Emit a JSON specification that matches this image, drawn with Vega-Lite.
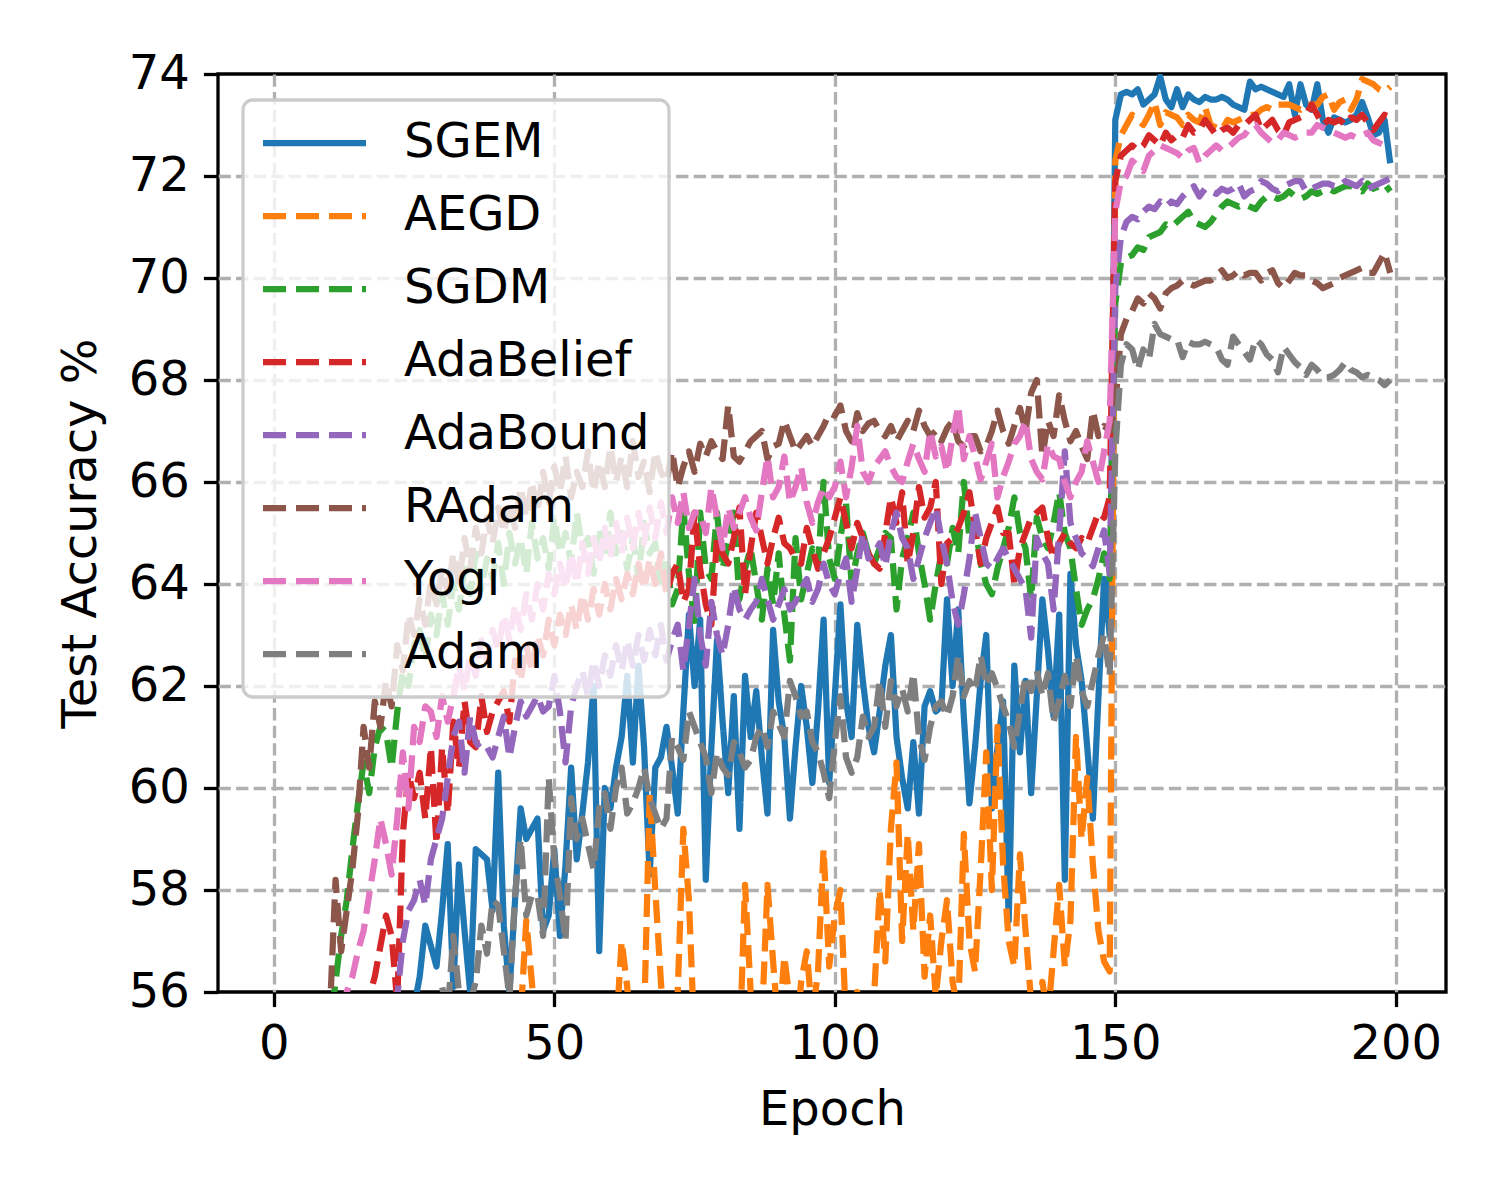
{
  "$schema": "https://vega.github.io/schema/vega-lite/v6.json",
  "width": 1228,
  "height": 918,
  "autosize": {"type": "none"},
  "padding": {"left": 218, "top": 74, "right": 54, "bottom": 208},
  "background": "white",
  "data": {"values": [
{"epoch":0,"SGEM":40,"AEGD":30,"SGDM":35,"AdaBelief":33,"AdaBound":30,"RAdam":38,"Yogi":35,"Adam":30},
{"epoch":1,"SGEM":43,"AEGD":35,"SGDM":40,"AdaBelief":37,"AdaBound":34,"RAdam":42,"Yogi":39,"Adam":33},
{"epoch":2,"SGEM":45,"AEGD":38,"SGDM":43,"AdaBelief":40,"AdaBound":37,"RAdam":45,"Yogi":42,"Adam":36},
{"epoch":3,"SGEM":47,"AEGD":40,"SGDM":46,"AdaBelief":42,"AdaBound":40,"RAdam":47,"Yogi":44,"Adam":38},
{"epoch":4,"SGEM":48.5,"AEGD":42,"SGDM":48,"AdaBelief":44,"AdaBound":42,"RAdam":49,"Yogi":46,"Adam":40},
{"epoch":5,"SGEM":49.5,"AEGD":43,"SGDM":50,"AdaBelief":46,"AdaBound":44,"RAdam":50.5,"Yogi":48,"Adam":42},
{"epoch":6,"SGEM":50.3,"AEGD":44,"SGDM":51.5,"AdaBelief":47.5,"AdaBound":45.5,"RAdam":52,"Yogi":49.5,"Adam":43.5},
{"epoch":7,"SGEM":51,"AEGD":45,"SGDM":52.5,"AdaBelief":49,"AdaBound":47,"RAdam":53,"Yogi":50.5,"Adam":45},
{"epoch":8,"SGEM":51.6,"AEGD":45.5,"SGDM":53.5,"AdaBelief":50,"AdaBound":48,"RAdam":54,"Yogi":51.5,"Adam":46},
{"epoch":9,"SGEM":52.1,"AEGD":46,"SGDM":54.5,"AdaBelief":51,"AdaBound":49,"RAdam":55,"Yogi":52.5,"Adam":47},
{"epoch":10,"SGEM":52.5,"AEGD":46.5,"SGDM":55.3,"AdaBelief":52,"AdaBound":50,"RAdam":55.6,"Yogi":53.5,"Adam":48},
{"epoch":11,"SGEM":52.9,"AEGD":47,"SGDM":56.2,"AdaBelief":52.8,"AdaBound":50.8,"RAdam":58.2,"Yogi":54.5,"Adam":48.8},
{"epoch":12,"SGEM":53.2,"AEGD":47.5,"SGDM":57.1,"AdaBelief":53.5,"AdaBound":51.5,"RAdam":56.8,"Yogi":55.2,"Adam":49.5},
{"epoch":13,"SGEM":53.5,"AEGD":48,"SGDM":57.8,"AdaBelief":54.2,"AdaBound":52.2,"RAdam":57.6,"Yogi":56.0,"Adam":50.2},
{"epoch":14,"SGEM":53.8,"AEGD":48.5,"SGDM":58.8,"AdaBelief":54.8,"AdaBound":52.8,"RAdam":58.4,"Yogi":56.3,"Adam":50.8},
{"epoch":15,"SGEM":54.0,"AEGD":49,"SGDM":59.7,"AdaBelief":55.2,"AdaBound":53.3,"RAdam":59.5,"Yogi":56.8,"Adam":51.4},
{"epoch":16,"SGEM":54.2,"AEGD":49,"SGDM":60.5,"AdaBelief":55.6,"AdaBound":53.8,"RAdam":61.2,"Yogi":57.2,"Adam":52},
{"epoch":17,"SGEM":54.4,"AEGD":49.5,"SGDM":59.9,"AdaBelief":55.9,"AdaBound":54.2,"RAdam":60.4,"Yogi":57.9,"Adam":52.5},
{"epoch":18,"SGEM":54.6,"AEGD":50,"SGDM":60.8,"AdaBelief":56.3,"AdaBound":54.6,"RAdam":61.7,"Yogi":58.6,"Adam":53},
{"epoch":19,"SGEM":54.8,"AEGD":50,"SGDM":61.2,"AdaBelief":56.9,"AdaBound":55.0,"RAdam":61.2,"Yogi":59.4,"Adam":53.4},
{"epoch":20,"SGEM":55.0,"AEGD":50.5,"SGDM":61.1,"AdaBelief":57.5,"AdaBound":55.4,"RAdam":62.1,"Yogi":58.9,"Adam":53.8},
{"epoch":21,"SGEM":55.1,"AEGD":50.5,"SGDM":60.4,"AdaBelief":57.1,"AdaBound":55.7,"RAdam":61.6,"Yogi":58.3,"Adam":54.2},
{"epoch":22,"SGEM":55.3,"AEGD":51,"SGDM":61.5,"AdaBelief":55.8,"AdaBound":55.9,"RAdam":62.8,"Yogi":59.4,"Adam":54.5},
{"epoch":23,"SGEM":55.4,"AEGD":51,"SGDM":62.3,"AdaBelief":59.1,"AdaBound":57.0,"RAdam":62.3,"Yogi":60.7,"Adam":54.8},
{"epoch":24,"SGEM":55.5,"AEGD":51.5,"SGDM":62.0,"AdaBelief":60.3,"AdaBound":57.6,"RAdam":63.4,"Yogi":59.6,"Adam":55.0},
{"epoch":25,"SGEM":55.7,"AEGD":51.5,"SGDM":62.8,"AdaBelief":59.8,"AdaBound":57.8,"RAdam":63.0,"Yogi":61.2,"Adam":55.2},
{"epoch":26,"SGEM":56.3,"AEGD":52,"SGDM":63.1,"AdaBelief":60.3,"AdaBound":58.2,"RAdam":63.7,"Yogi":60.9,"Adam":55.4},
{"epoch":27,"SGEM":57.3,"AEGD":52,"SGDM":62.5,"AdaBelief":59.4,"AdaBound":57.7,"RAdam":63.2,"Yogi":61.6,"Adam":55.6},
{"epoch":28,"SGEM":56.9,"AEGD":52,"SGDM":63.4,"AdaBelief":60.8,"AdaBound":58.6,"RAdam":64.1,"Yogi":61.5,"Adam":55.8},
{"epoch":29,"SGEM":56.5,"AEGD":52.5,"SGDM":63.0,"AdaBelief":58.9,"AdaBound":59.0,"RAdam":63.6,"Yogi":61.0,"Adam":55.9},
{"epoch":30,"SGEM":57.6,"AEGD":52.5,"SGDM":63.8,"AdaBelief":60.8,"AdaBound":59.4,"RAdam":64.3,"Yogi":61.8,"Adam":56.1},
{"epoch":31,"SGEM":58.9,"AEGD":52.5,"SGDM":63.2,"AdaBelief":59.5,"AdaBound":60.2,"RAdam":63.8,"Yogi":61.3,"Adam":55.6},
{"epoch":32,"SGEM":56.1,"AEGD":53,"SGDM":64.0,"AdaBelief":61.3,"AdaBound":61.0,"RAdam":64.6,"Yogi":61.8,"Adam":57.1},
{"epoch":33,"SGEM":58.5,"AEGD":53,"SGDM":63.5,"AdaBelief":60.4,"AdaBound":61.3,"RAdam":64.0,"Yogi":62.4,"Adam":56.0},
{"epoch":34,"SGEM":57.2,"AEGD":53,"SGDM":64.3,"AdaBelief":61.7,"AdaBound":60.3,"RAdam":64.9,"Yogi":61.9,"Adam":55.5},
{"epoch":35,"SGEM":56.0,"AEGD":53.2,"SGDM":63.8,"AdaBelief":60.9,"AdaBound":61.4,"RAdam":64.3,"Yogi":62.6,"Adam":55.8},
{"epoch":36,"SGEM":58.8,"AEGD":53.4,"SGDM":64.6,"AdaBelief":60.8,"AdaBound":60.9,"RAdam":65.1,"Yogi":62.2,"Adam":56.2},
{"epoch":37,"SGEM":58.7,"AEGD":53.5,"SGDM":63.9,"AdaBelief":61.8,"AdaBound":60.75,"RAdam":64.6,"Yogi":62.9,"Adam":57.3},
{"epoch":38,"SGEM":58.6,"AEGD":53.5,"SGDM":64.5,"AdaBelief":61.1,"AdaBound":60.8,"RAdam":65.3,"Yogi":62.5,"Adam":56.75},
{"epoch":39,"SGEM":57.6,"AEGD":53.6,"SGDM":64.1,"AdaBelief":61.5,"AdaBound":60.6,"RAdam":64.8,"Yogi":63.1,"Adam":57.8},
{"epoch":40,"SGEM":60.3,"AEGD":53.8,"SGDM":64.8,"AdaBelief":61.7,"AdaBound":61.0,"RAdam":65.5,"Yogi":62.7,"Adam":57.7},
{"epoch":41,"SGEM":57.3,"AEGD":54.0,"SGDM":64.0,"AdaBelief":61.9,"AdaBound":61.4,"RAdam":65.0,"Yogi":63.4,"Adam":56.8},
{"epoch":42,"SGEM":56.0,"AEGD":53.5,"SGDM":65.0,"AdaBelief":61.3,"AdaBound":60.6,"RAdam":65.6,"Yogi":62.9,"Adam":55.9},
{"epoch":43,"SGEM":57.8,"AEGD":54.5,"SGDM":64.4,"AdaBelief":62.5,"AdaBound":61.2,"RAdam":65.1,"Yogi":63.6,"Adam":57.9},
{"epoch":44,"SGEM":59.6,"AEGD":55.5,"SGDM":64.9,"AdaBelief":62.1,"AdaBound":61.7,"RAdam":65.9,"Yogi":63.1,"Adam":59.0},
{"epoch":45,"SGEM":59.0,"AEGD":57.4,"SGDM":64.2,"AdaBelief":62.8,"AdaBound":61.4,"RAdam":65.3,"Yogi":63.8,"Adam":57.5},
{"epoch":46,"SGEM":59.2,"AEGD":56.2,"SGDM":65.2,"AdaBelief":62.3,"AdaBound":61.6,"RAdam":66.0,"Yogi":63.3,"Adam":57.9},
{"epoch":47,"SGEM":59.4,"AEGD":54.8,"SGDM":64.5,"AdaBelief":63.0,"AdaBound":61.8,"RAdam":65.4,"Yogi":64.0,"Adam":57.9},
{"epoch":48,"SGEM":57.2,"AEGD":54.0,"SGDM":64.9,"AdaBelief":62.6,"AdaBound":61.5,"RAdam":66.2,"Yogi":63.5,"Adam":57.1},
{"epoch":49,"SGEM":57.5,"AEGD":53.8,"SGDM":64.3,"AdaBelief":63.3,"AdaBound":61.6,"RAdam":65.6,"Yogi":64.2,"Adam":60.2},
{"epoch":50,"SGEM":58.8,"AEGD":54.2,"SGDM":65.3,"AdaBelief":62.8,"AdaBound":62.2,"RAdam":66.3,"Yogi":63.8,"Adam":58.6},
{"epoch":51,"SGEM":57.1,"AEGD":53.6,"SGDM":64.6,"AdaBelief":63.4,"AdaBound":61.5,"RAdam":65.8,"Yogi":64.4,"Adam":57.9},
{"epoch":52,"SGEM":58.5,"AEGD":54.5,"SGDM":65.0,"AdaBelief":63.0,"AdaBound":60.5,"RAdam":66.5,"Yogi":63.9,"Adam":57.0},
{"epoch":53,"SGEM":60.4,"AEGD":54.0,"SGDM":64.4,"AdaBelief":63.6,"AdaBound":61.6,"RAdam":65.7,"Yogi":64.6,"Adam":59.8},
{"epoch":54,"SGEM":58.6,"AEGD":53.8,"SGDM":65.4,"AdaBelief":63.1,"AdaBound":62.0,"RAdam":66.2,"Yogi":64.0,"Adam":59.0},
{"epoch":55,"SGEM":59.5,"AEGD":54.4,"SGDM":64.7,"AdaBelief":63.8,"AdaBound":62.3,"RAdam":65.9,"Yogi":64.8,"Adam":59.4},
{"epoch":56,"SGEM":60.5,"AEGD":54.0,"SGDM":64.9,"AdaBelief":63.3,"AdaBound":61.8,"RAdam":66.6,"Yogi":64.2,"Adam":58.9},
{"epoch":57,"SGEM":62.0,"AEGD":53.5,"SGDM":64.2,"AdaBelief":63.9,"AdaBound":62.5,"RAdam":65.8,"Yogi":64.9,"Adam":58.4},
{"epoch":58,"SGEM":56.8,"AEGD":54.2,"SGDM":65.1,"AdaBelief":63.4,"AdaBound":62.0,"RAdam":66.4,"Yogi":64.4,"Adam":59.6},
{"epoch":59,"SGEM":60.0,"AEGD":54.8,"SGDM":64.5,"AdaBelief":64.0,"AdaBound":62.6,"RAdam":65.9,"Yogi":65.1,"Adam":59.9},
{"epoch":60,"SGEM":59.6,"AEGD":54.3,"SGDM":65.4,"AdaBelief":63.5,"AdaBound":62.2,"RAdam":66.7,"Yogi":64.5,"Adam":59.2},
{"epoch":61,"SGEM":60.4,"AEGD":55.2,"SGDM":64.6,"AdaBelief":64.1,"AdaBound":62.8,"RAdam":66.0,"Yogi":65.2,"Adam":60.0},
{"epoch":62,"SGEM":61.0,"AEGD":57.0,"SGDM":65.0,"AdaBelief":63.7,"AdaBound":62.3,"RAdam":66.5,"Yogi":64.6,"Adam":60.4},
{"epoch":63,"SGEM":62.2,"AEGD":56.1,"SGDM":64.3,"AdaBelief":64.2,"AdaBound":62.9,"RAdam":65.9,"Yogi":65.3,"Adam":59.5},
{"epoch":64,"SGEM":60.5,"AEGD":54.6,"SGDM":64.9,"AdaBelief":63.8,"AdaBound":62.4,"RAdam":66.8,"Yogi":64.7,"Adam":59.7},
{"epoch":65,"SGEM":62.4,"AEGD":55.0,"SGDM":64.1,"AdaBelief":64.4,"AdaBound":63.0,"RAdam":66.1,"Yogi":65.4,"Adam":60.0},
{"epoch":66,"SGEM":60.8,"AEGD":55.4,"SGDM":65.2,"AdaBelief":63.9,"AdaBound":62.5,"RAdam":66.4,"Yogi":64.8,"Adam":60.4},
{"epoch":67,"SGEM":58.3,"AEGD":59.9,"SGDM":64.6,"AdaBelief":64.5,"AdaBound":63.1,"RAdam":65.8,"Yogi":65.5,"Adam":59.8},
{"epoch":68,"SGEM":60.4,"AEGD":58.0,"SGDM":64.8,"AdaBelief":64.0,"AdaBound":62.6,"RAdam":66.6,"Yogi":64.9,"Adam":59.5},
{"epoch":69,"SGEM":60.6,"AEGD":56.2,"SGDM":63.9,"AdaBelief":64.6,"AdaBound":63.2,"RAdam":66.2,"Yogi":65.6,"Adam":59.2},
{"epoch":70,"SGEM":61.2,"AEGD":54.8,"SGDM":64.5,"AdaBelief":63.8,"AdaBound":62.5,"RAdam":66.0,"Yogi":65.0,"Adam":59.4},
{"epoch":71,"SGEM":60.4,"AEGD":55.3,"SGDM":63.6,"AdaBelief":64.2,"AdaBound":62.9,"RAdam":66.6,"Yogi":65.7,"Adam":61.0},
{"epoch":72,"SGEM":59.5,"AEGD":56.0,"SGDM":63.9,"AdaBelief":64.4,"AdaBound":63.2,"RAdam":65.9,"Yogi":65.2,"Adam":60.8},
{"epoch":73,"SGEM":61.5,"AEGD":59.2,"SGDM":65.5,"AdaBelief":63.65,"AdaBound":62.3,"RAdam":66.3,"Yogi":65.8,"Adam":60.55},
{"epoch":74,"SGEM":63.4,"AEGD":57.8,"SGDM":64.2,"AdaBelief":63.9,"AdaBound":63.2,"RAdam":66.6,"Yogi":65.1,"Adam":61.5},
{"epoch":75,"SGEM":62.0,"AEGD":55.0,"SGDM":63.2,"AdaBelief":65.4,"AdaBound":64.1,"RAdam":66.2,"Yogi":65.4,"Adam":61.2},
{"epoch":76,"SGEM":63.3,"AEGD":54.2,"SGDM":65.4,"AdaBelief":64.3,"AdaBound":63.0,"RAdam":66.75,"Yogi":65.4,"Adam":60.9},
{"epoch":77,"SGEM":58.2,"AEGD":54.8,"SGDM":64.3,"AdaBelief":63.6,"AdaBound":62.4,"RAdam":66.5,"Yogi":65.0,"Adam":60.6},
{"epoch":78,"SGEM":60.8,"AEGD":55.3,"SGDM":64.1,"AdaBelief":63.2,"AdaBound":63.65,"RAdam":66.8,"Yogi":65.9,"Adam":59.9},
{"epoch":79,"SGEM":62.9,"AEGD":54.6,"SGDM":65.4,"AdaBelief":64.9,"AdaBound":63.0,"RAdam":66.6,"Yogi":65.3,"Adam":60.7},
{"epoch":80,"SGEM":61.3,"AEGD":55.0,"SGDM":64.3,"AdaBelief":64.6,"AdaBound":62.6,"RAdam":66.45,"Yogi":64.7,"Adam":60.4},
{"epoch":81,"SGEM":59.9,"AEGD":55.3,"SGDM":64.8,"AdaBelief":64.4,"AdaBound":63.2,"RAdam":67.5,"Yogi":65.5,"Adam":60.25},
{"epoch":82,"SGEM":61.8,"AEGD":55.2,"SGDM":65.4,"AdaBelief":64.9,"AdaBound":63.95,"RAdam":66.5,"Yogi":65.1,"Adam":60.9},
{"epoch":83,"SGEM":59.2,"AEGD":54.8,"SGDM":63.7,"AdaBelief":65.5,"AdaBound":63.5,"RAdam":66.4,"Yogi":65.4,"Adam":60.7},
{"epoch":84,"SGEM":62.2,"AEGD":58.1,"SGDM":64.3,"AdaBelief":63.8,"AdaBound":63.3,"RAdam":66.6,"Yogi":65.7,"Adam":60.4},
{"epoch":85,"SGEM":61.0,"AEGD":56.0,"SGDM":64.7,"AdaBelief":64.7,"AdaBound":63.5,"RAdam":66.8,"Yogi":65.3,"Adam":60.55},
{"epoch":86,"SGEM":61.9,"AEGD":54.6,"SGDM":64.0,"AdaBelief":65.4,"AdaBound":63.65,"RAdam":66.9,"Yogi":65.05,"Adam":61.0},
{"epoch":87,"SGEM":60.6,"AEGD":55.4,"SGDM":63.3,"AdaBelief":64.9,"AdaBound":64.1,"RAdam":67.0,"Yogi":65.8,"Adam":61.2},
{"epoch":88,"SGEM":59.5,"AEGD":58.1,"SGDM":64.3,"AdaBelief":64.4,"AdaBound":63.7,"RAdam":66.45,"Yogi":66.5,"Adam":60.8},
{"epoch":89,"SGEM":63.1,"AEGD":56.6,"SGDM":63.6,"AdaBelief":64.9,"AdaBound":63.3,"RAdam":66.7,"Yogi":65.7,"Adam":61.5},
{"epoch":90,"SGEM":61.7,"AEGD":55.2,"SGDM":64.6,"AdaBelief":65.3,"AdaBound":63.6,"RAdam":66.75,"Yogi":65.9,"Adam":61.25},
{"epoch":91,"SGEM":61.0,"AEGD":56.7,"SGDM":63.4,"AdaBelief":64.8,"AdaBound":63.9,"RAdam":67.2,"Yogi":66.5,"Adam":61.0},
{"epoch":92,"SGEM":59.4,"AEGD":55.8,"SGDM":62.5,"AdaBelief":64.7,"AdaBound":63.5,"RAdam":66.9,"Yogi":65.6,"Adam":62.1},
{"epoch":93,"SGEM":60.8,"AEGD":54.9,"SGDM":64.9,"AdaBelief":64.5,"AdaBound":63.65,"RAdam":66.6,"Yogi":65.9,"Adam":61.8},
{"epoch":94,"SGEM":62.0,"AEGD":56.2,"SGDM":63.7,"AdaBelief":64.4,"AdaBound":63.9,"RAdam":66.75,"Yogi":66.3,"Adam":61.4},
{"epoch":95,"SGEM":61.2,"AEGD":56.8,"SGDM":64.2,"AdaBelief":65.1,"AdaBound":64.1,"RAdam":66.9,"Yogi":65.6,"Adam":61.5},
{"epoch":96,"SGEM":60.1,"AEGD":55.5,"SGDM":64.7,"AdaBelief":64.7,"AdaBound":63.65,"RAdam":66.7,"Yogi":65.2,"Adam":60.9},
{"epoch":97,"SGEM":61.5,"AEGD":56.4,"SGDM":64.4,"AdaBelief":64.3,"AdaBound":63.9,"RAdam":66.9,"Yogi":65.6,"Adam":60.7},
{"epoch":98,"SGEM":63.3,"AEGD":58.8,"SGDM":66.0,"AdaBelief":64.6,"AdaBound":64.4,"RAdam":67.1,"Yogi":65.9,"Adam":60.3},
{"epoch":99,"SGEM":60.1,"AEGD":56.5,"SGDM":64.5,"AdaBelief":64.9,"AdaBound":64.0,"RAdam":67.35,"Yogi":65.7,"Adam":59.8},
{"epoch":100,"SGEM":61.8,"AEGD":57.5,"SGDM":64.1,"AdaBelief":65.3,"AdaBound":63.8,"RAdam":67.3,"Yogi":65.9,"Adam":60.9},
{"epoch":101,"SGEM":63.6,"AEGD":58.0,"SGDM":64.9,"AdaBelief":65.7,"AdaBound":64.2,"RAdam":67.5,"Yogi":66.4,"Adam":61.8},
{"epoch":102,"SGEM":61.7,"AEGD":55.4,"SGDM":65.6,"AdaBelief":65.2,"AdaBound":64.5,"RAdam":67.0,"Yogi":65.7,"Adam":60.6},
{"epoch":103,"SGEM":61.0,"AEGD":54.8,"SGDM":64.0,"AdaBelief":64.7,"AdaBound":63.65,"RAdam":66.8,"Yogi":66.3,"Adam":60.3},
{"epoch":104,"SGEM":63.2,"AEGD":56.0,"SGDM":64.6,"AdaBelief":65.2,"AdaBound":64.3,"RAdam":67.35,"Yogi":67.1,"Adam":60.6},
{"epoch":105,"SGEM":62.1,"AEGD":55.1,"SGDM":65.0,"AdaBelief":64.9,"AdaBound":65.0,"RAdam":67.0,"Yogi":66.2,"Adam":61.4},
{"epoch":106,"SGEM":61.2,"AEGD":54.6,"SGDM":64.6,"AdaBelief":64.6,"AdaBound":64.5,"RAdam":67.15,"Yogi":66.0,"Adam":61.0},
{"epoch":107,"SGEM":60.7,"AEGD":55.9,"SGDM":64.4,"AdaBelief":64.4,"AdaBound":64.6,"RAdam":67.2,"Yogi":66.3,"Adam":61.2},
{"epoch":108,"SGEM":61.5,"AEGD":58.0,"SGDM":64.7,"AdaBelief":64.3,"AdaBound":64.8,"RAdam":67.0,"Yogi":66.45,"Adam":62.1},
{"epoch":109,"SGEM":62.4,"AEGD":56.6,"SGDM":65.0,"AdaBelief":65.0,"AdaBound":64.35,"RAdam":66.9,"Yogi":66.6,"Adam":61.2},
{"epoch":110,"SGEM":63.0,"AEGD":59.2,"SGDM":64.9,"AdaBelief":65.7,"AdaBound":65.0,"RAdam":67.1,"Yogi":66.3,"Adam":62.1},
{"epoch":111,"SGEM":61.0,"AEGD":60.5,"SGDM":63.5,"AdaBelief":65.2,"AdaBound":65.4,"RAdam":66.8,"Yogi":66.1,"Adam":61.6},
{"epoch":112,"SGEM":60.2,"AEGD":57.0,"SGDM":64.5,"AdaBelief":65.8,"AdaBound":64.9,"RAdam":67.0,"Yogi":66.0,"Adam":61.95},
{"epoch":113,"SGEM":59.6,"AEGD":59.1,"SGDM":64.9,"AdaBelief":64.4,"AdaBound":64.7,"RAdam":67.2,"Yogi":66.4,"Adam":61.5},
{"epoch":114,"SGEM":60.9,"AEGD":57.2,"SGDM":65.4,"AdaBelief":65.0,"AdaBound":64.1,"RAdam":67.0,"Yogi":66.75,"Adam":62.25},
{"epoch":115,"SGEM":59.5,"AEGD":58.9,"SGDM":64.6,"AdaBelief":65.9,"AdaBound":64.5,"RAdam":67.4,"Yogi":66.45,"Adam":61.0},
{"epoch":116,"SGEM":61.6,"AEGD":56.3,"SGDM":64.0,"AdaBelief":65.3,"AdaBound":64.9,"RAdam":67.1,"Yogi":66.2,"Adam":60.55},
{"epoch":117,"SGEM":61.9,"AEGD":57.5,"SGDM":63.3,"AdaBelief":65.5,"AdaBound":65.2,"RAdam":66.9,"Yogi":67.0,"Adam":61.2},
{"epoch":118,"SGEM":61.5,"AEGD":55.9,"SGDM":64.0,"AdaBelief":66.0,"AdaBound":65.5,"RAdam":67.0,"Yogi":66.5,"Adam":61.6},
{"epoch":119,"SGEM":61.6,"AEGD":57.0,"SGDM":64.6,"AdaBelief":64.0,"AdaBound":64.9,"RAdam":66.8,"Yogi":66.7,"Adam":61.7},
{"epoch":120,"SGEM":63.7,"AEGD":57.8,"SGDM":64.4,"AdaBelief":64.8,"AdaBound":64.4,"RAdam":67.05,"Yogi":66.2,"Adam":61.4},
{"epoch":121,"SGEM":62.0,"AEGD":56.2,"SGDM":65.1,"AdaBelief":64.9,"AdaBound":63.65,"RAdam":67.2,"Yogi":66.9,"Adam":61.8},
{"epoch":122,"SGEM":63.5,"AEGD":55.6,"SGDM":64.6,"AdaBelief":65.1,"AdaBound":63.2,"RAdam":66.8,"Yogi":67.5,"Adam":62.6},
{"epoch":123,"SGEM":61.4,"AEGD":59.1,"SGDM":66.0,"AdaBelief":65.4,"AdaBound":63.8,"RAdam":66.7,"Yogi":66.45,"Adam":61.8},
{"epoch":124,"SGEM":59.7,"AEGD":57.0,"SGDM":64.9,"AdaBelief":65.8,"AdaBound":64.5,"RAdam":66.9,"Yogi":66.9,"Adam":62.1},
{"epoch":125,"SGEM":60.8,"AEGD":56.4,"SGDM":65.2,"AdaBelief":65.1,"AdaBound":65.4,"RAdam":66.9,"Yogi":66.5,"Adam":61.9},
{"epoch":126,"SGEM":62.1,"AEGD":58.4,"SGDM":64.4,"AdaBelief":64.4,"AdaBound":64.9,"RAdam":66.6,"Yogi":66.05,"Adam":62.6},
{"epoch":127,"SGEM":63.0,"AEGD":60.7,"SGDM":64.0,"AdaBelief":64.9,"AdaBound":64.4,"RAdam":66.7,"Yogi":66.4,"Adam":62.0},
{"epoch":128,"SGEM":59.6,"AEGD":58.0,"SGDM":63.8,"AdaBelief":65.2,"AdaBound":64.3,"RAdam":67.0,"Yogi":66.75,"Adam":62.25},
{"epoch":129,"SGEM":60.8,"AEGD":61.2,"SGDM":64.3,"AdaBelief":65.5,"AdaBound":64.5,"RAdam":67.4,"Yogi":65.7,"Adam":61.95},
{"epoch":130,"SGEM":61.7,"AEGD":58.5,"SGDM":64.7,"AdaBelief":65.0,"AdaBound":64.7,"RAdam":67.0,"Yogi":66.1,"Adam":61.6},
{"epoch":131,"SGEM":57.4,"AEGD":57.0,"SGDM":65.1,"AdaBelief":65.0,"AdaBound":64.5,"RAdam":66.75,"Yogi":66.4,"Adam":61.3},
{"epoch":132,"SGEM":62.4,"AEGD":56.5,"SGDM":65.7,"AdaBelief":64.0,"AdaBound":64.3,"RAdam":67.1,"Yogi":66.75,"Adam":60.8},
{"epoch":133,"SGEM":60.7,"AEGD":58.7,"SGDM":65.0,"AdaBelief":64.7,"AdaBound":64.1,"RAdam":67.45,"Yogi":66.9,"Adam":61.5},
{"epoch":134,"SGEM":62.1,"AEGD":57.2,"SGDM":64.7,"AdaBelief":65.0,"AdaBound":63.9,"RAdam":67.0,"Yogi":67.2,"Adam":62.2},
{"epoch":135,"SGEM":59.9,"AEGD":55.8,"SGDM":63.7,"AdaBelief":65.3,"AdaBound":62.95,"RAdam":67.75,"Yogi":66.45,"Adam":61.9},
{"epoch":136,"SGEM":61.8,"AEGD":54.9,"SGDM":65.3,"AdaBelief":65.4,"AdaBound":64.9,"RAdam":68.0,"Yogi":66.2,"Adam":62.3},
{"epoch":137,"SGEM":63.7,"AEGD":56.2,"SGDM":64.9,"AdaBelief":65.5,"AdaBound":64.6,"RAdam":66.5,"Yogi":66.05,"Adam":61.8},
{"epoch":138,"SGEM":62.7,"AEGD":55.5,"SGDM":64.7,"AdaBelief":64.9,"AdaBound":64.4,"RAdam":67.2,"Yogi":66.75,"Adam":62.25},
{"epoch":139,"SGEM":61.4,"AEGD":56.8,"SGDM":65.2,"AdaBelief":64.5,"AdaBound":63.5,"RAdam":66.9,"Yogi":66.5,"Adam":61.3},
{"epoch":140,"SGEM":63.4,"AEGD":58.1,"SGDM":65.8,"AdaBelief":64.8,"AdaBound":65.0,"RAdam":67.7,"Yogi":66.45,"Adam":61.7},
{"epoch":141,"SGEM":58.2,"AEGD":56.5,"SGDM":65.0,"AdaBelief":65.0,"AdaBound":66.6,"RAdam":67.2,"Yogi":66.0,"Adam":62.2},
{"epoch":142,"SGEM":64.2,"AEGD":57.4,"SGDM":64.7,"AdaBelief":64.8,"AdaBound":65.2,"RAdam":66.8,"Yogi":65.7,"Adam":61.6},
{"epoch":143,"SGEM":62.8,"AEGD":61.0,"SGDM":63.9,"AdaBelief":64.7,"AdaBound":64.9,"RAdam":67.0,"Yogi":66.0,"Adam":62.6},
{"epoch":144,"SGEM":62.1,"AEGD":59.0,"SGDM":63.2,"AdaBelief":64.9,"AdaBound":64.6,"RAdam":66.7,"Yogi":66.2,"Adam":61.9},
{"epoch":145,"SGEM":60.8,"AEGD":60.2,"SGDM":63.5,"AdaBelief":64.8,"AdaBound":64.5,"RAdam":66.45,"Yogi":66.8,"Adam":61.6},
{"epoch":146,"SGEM":59.4,"AEGD":58.5,"SGDM":63.7,"AdaBelief":65.1,"AdaBound":64.35,"RAdam":67.4,"Yogi":66.4,"Adam":62.1},
{"epoch":147,"SGEM":61.8,"AEGD":57.2,"SGDM":64.1,"AdaBelief":65.4,"AdaBound":64.7,"RAdam":66.9,"Yogi":66.0,"Adam":62.6},
{"epoch":148,"SGEM":64.1,"AEGD":56.6,"SGDM":64.6,"AdaBelief":65.3,"AdaBound":65.05,"RAdam":67.1,"Yogi":66.6,"Adam":63.0},
{"epoch":149,"SGEM":63.0,"AEGD":56.4,"SGDM":64.1,"AdaBelief":65.7,"AdaBound":64.2,"RAdam":67.0,"Yogi":67.2,"Adam":62.2},
{"epoch":150,"SGEM":73.1,"AEGD":72.3,"SGDM":69.5,"AdaBelief":71.9,"AdaBound":69.8,"RAdam":67.5,"Yogi":71.3,"Adam":66.6},
{"epoch":151,"SGEM":73.6,"AEGD":72.8,"SGDM":70.3,"AdaBelief":72.4,"AdaBound":70.8,"RAdam":68.9,"Yogi":71.9,"Adam":68.3},
{"epoch":152,"SGEM":73.65,"AEGD":73.0,"SGDM":70.4,"AdaBelief":72.5,"AdaBound":71.1,"RAdam":69.2,"Yogi":72.0,"Adam":68.7},
{"epoch":153,"SGEM":73.6,"AEGD":73.2,"SGDM":70.45,"AdaBelief":72.6,"AdaBound":71.2,"RAdam":69.35,"Yogi":72.3,"Adam":68.6},
{"epoch":154,"SGEM":73.7,"AEGD":73.1,"SGDM":70.6,"AdaBelief":72.5,"AdaBound":71.15,"RAdam":69.6,"Yogi":72.2,"Adam":68.2},
{"epoch":155,"SGEM":73.4,"AEGD":73.0,"SGDM":70.55,"AdaBelief":72.6,"AdaBound":71.3,"RAdam":69.5,"Yogi":72.1,"Adam":68.6},
{"epoch":156,"SGEM":73.5,"AEGD":73.2,"SGDM":70.8,"AdaBelief":72.8,"AdaBound":71.4,"RAdam":69.7,"Yogi":72.4,"Adam":68.4},
{"epoch":157,"SGEM":73.6,"AEGD":73.45,"SGDM":70.85,"AdaBelief":72.7,"AdaBound":71.35,"RAdam":69.6,"Yogi":72.5,"Adam":69.1},
{"epoch":158,"SGEM":73.95,"AEGD":73.0,"SGDM":70.9,"AdaBelief":72.6,"AdaBound":71.5,"RAdam":69.4,"Yogi":72.6,"Adam":68.9},
{"epoch":159,"SGEM":73.5,"AEGD":73.25,"SGDM":71.05,"AdaBelief":72.85,"AdaBound":71.4,"RAdam":69.7,"Yogi":72.55,"Adam":68.85},
{"epoch":160,"SGEM":73.35,"AEGD":73.2,"SGDM":71.0,"AdaBelief":72.7,"AdaBound":71.5,"RAdam":69.8,"Yogi":72.5,"Adam":68.8},
{"epoch":161,"SGEM":73.7,"AEGD":73.15,"SGDM":71.1,"AdaBelief":72.8,"AdaBound":71.45,"RAdam":69.85,"Yogi":72.45,"Adam":68.8},
{"epoch":162,"SGEM":73.35,"AEGD":73.0,"SGDM":71.2,"AdaBelief":72.75,"AdaBound":71.6,"RAdam":69.95,"Yogi":72.35,"Adam":68.45},
{"epoch":163,"SGEM":73.6,"AEGD":73.2,"SGDM":71.3,"AdaBelief":73.0,"AdaBound":71.7,"RAdam":69.9,"Yogi":72.5,"Adam":68.75},
{"epoch":164,"SGEM":73.5,"AEGD":73.1,"SGDM":71.1,"AdaBelief":72.85,"AdaBound":71.8,"RAdam":69.85,"Yogi":72.55,"Adam":68.7},
{"epoch":165,"SGEM":73.45,"AEGD":73.05,"SGDM":71.05,"AdaBelief":72.9,"AdaBound":71.6,"RAdam":69.9,"Yogi":72.25,"Adam":68.7},
{"epoch":166,"SGEM":73.55,"AEGD":73.35,"SGDM":71.0,"AdaBelief":73.1,"AdaBound":71.75,"RAdam":69.95,"Yogi":72.4,"Adam":68.75},
{"epoch":167,"SGEM":73.5,"AEGD":73.0,"SGDM":71.1,"AdaBelief":72.95,"AdaBound":71.7,"RAdam":69.95,"Yogi":72.5,"Adam":68.7},
{"epoch":168,"SGEM":73.5,"AEGD":72.95,"SGDM":71.25,"AdaBelief":72.8,"AdaBound":71.65,"RAdam":70.05,"Yogi":72.6,"Adam":68.65},
{"epoch":169,"SGEM":73.55,"AEGD":72.9,"SGDM":71.4,"AdaBelief":72.9,"AdaBound":71.75,"RAdam":70.15,"Yogi":72.5,"Adam":68.4},
{"epoch":170,"SGEM":73.5,"AEGD":73.1,"SGDM":71.5,"AdaBelief":72.95,"AdaBound":71.7,"RAdam":70.0,"Yogi":72.55,"Adam":68.3},
{"epoch":171,"SGEM":73.4,"AEGD":73.05,"SGDM":71.45,"AdaBelief":72.85,"AdaBound":71.75,"RAdam":70.05,"Yogi":72.65,"Adam":68.85},
{"epoch":172,"SGEM":73.35,"AEGD":73.1,"SGDM":71.4,"AdaBelief":73.0,"AdaBound":71.85,"RAdam":70.15,"Yogi":72.75,"Adam":68.7},
{"epoch":173,"SGEM":73.3,"AEGD":73.15,"SGDM":71.45,"AdaBelief":73.0,"AdaBound":71.6,"RAdam":70.05,"Yogi":72.8,"Adam":68.55},
{"epoch":174,"SGEM":73.85,"AEGD":73.2,"SGDM":71.4,"AdaBelief":73.1,"AdaBound":71.7,"RAdam":70.1,"Yogi":72.95,"Adam":68.4},
{"epoch":175,"SGEM":73.7,"AEGD":73.2,"SGDM":71.35,"AdaBelief":73.2,"AdaBound":71.75,"RAdam":70.1,"Yogi":73.0,"Adam":68.8},
{"epoch":176,"SGEM":73.75,"AEGD":73.3,"SGDM":71.5,"AdaBelief":72.9,"AdaBound":71.9,"RAdam":69.95,"Yogi":72.85,"Adam":68.7},
{"epoch":177,"SGEM":73.7,"AEGD":73.35,"SGDM":71.6,"AdaBelief":73.0,"AdaBound":71.85,"RAdam":70.1,"Yogi":72.75,"Adam":68.5},
{"epoch":178,"SGEM":73.65,"AEGD":73.3,"SGDM":71.6,"AdaBelief":73.1,"AdaBound":71.75,"RAdam":70.15,"Yogi":72.65,"Adam":68.4},
{"epoch":179,"SGEM":73.6,"AEGD":73.4,"SGDM":71.55,"AdaBelief":72.9,"AdaBound":71.7,"RAdam":69.9,"Yogi":72.7,"Adam":68.15},
{"epoch":180,"SGEM":73.55,"AEGD":73.4,"SGDM":71.6,"AdaBelief":72.8,"AdaBound":71.8,"RAdam":69.8,"Yogi":72.85,"Adam":68.65},
{"epoch":181,"SGEM":73.8,"AEGD":73.4,"SGDM":71.7,"AdaBelief":73.05,"AdaBound":71.85,"RAdam":69.95,"Yogi":72.8,"Adam":68.5},
{"epoch":182,"SGEM":73.2,"AEGD":73.35,"SGDM":71.6,"AdaBelief":73.1,"AdaBound":71.9,"RAdam":70.1,"Yogi":72.75,"Adam":68.35},
{"epoch":183,"SGEM":73.8,"AEGD":73.3,"SGDM":71.55,"AdaBelief":73.15,"AdaBound":71.9,"RAdam":70.05,"Yogi":72.8,"Adam":68.25},
{"epoch":184,"SGEM":73.4,"AEGD":73.4,"SGDM":71.6,"AdaBelief":73.2,"AdaBound":71.7,"RAdam":70.05,"Yogi":72.85,"Adam":68.1},
{"epoch":185,"SGEM":73.3,"AEGD":73.4,"SGDM":71.7,"AdaBelief":73.4,"AdaBound":71.75,"RAdam":69.95,"Yogi":72.85,"Adam":68.3},
{"epoch":186,"SGEM":73.8,"AEGD":73.4,"SGDM":71.65,"AdaBelief":73.2,"AdaBound":71.8,"RAdam":69.9,"Yogi":73.0,"Adam":68.2},
{"epoch":187,"SGEM":73.1,"AEGD":73.55,"SGDM":71.7,"AdaBelief":73.0,"AdaBound":71.85,"RAdam":69.8,"Yogi":72.95,"Adam":68.05},
{"epoch":188,"SGEM":72.85,"AEGD":73.6,"SGDM":71.75,"AdaBelief":73.1,"AdaBound":71.85,"RAdam":69.85,"Yogi":72.9,"Adam":68.05},
{"epoch":189,"SGEM":73.15,"AEGD":73.3,"SGDM":71.7,"AdaBelief":73.05,"AdaBound":71.8,"RAdam":69.9,"Yogi":72.85,"Adam":68.1},
{"epoch":190,"SGEM":73.1,"AEGD":73.45,"SGDM":71.75,"AdaBelief":73.1,"AdaBound":71.8,"RAdam":70.0,"Yogi":72.8,"Adam":68.2},
{"epoch":191,"SGEM":73.05,"AEGD":73.5,"SGDM":71.8,"AdaBelief":73.0,"AdaBound":71.9,"RAdam":70.05,"Yogi":72.75,"Adam":68.35},
{"epoch":192,"SGEM":73.1,"AEGD":73.3,"SGDM":71.8,"AdaBelief":73.15,"AdaBound":71.85,"RAdam":70.1,"Yogi":72.8,"Adam":68.2},
{"epoch":193,"SGEM":73.2,"AEGD":73.5,"SGDM":71.75,"AdaBelief":73.1,"AdaBound":71.8,"RAdam":70.15,"Yogi":72.75,"Adam":68.15},
{"epoch":194,"SGEM":73.45,"AEGD":73.9,"SGDM":71.7,"AdaBelief":73.2,"AdaBound":71.9,"RAdam":70.2,"Yogi":72.8,"Adam":68.05},
{"epoch":195,"SGEM":73.15,"AEGD":73.85,"SGDM":71.85,"AdaBelief":73.05,"AdaBound":71.75,"RAdam":70.1,"Yogi":72.85,"Adam":68.1},
{"epoch":196,"SGEM":72.8,"AEGD":73.8,"SGDM":71.75,"AdaBelief":72.9,"AdaBound":71.8,"RAdam":70.1,"Yogi":72.7,"Adam":68.05},
{"epoch":197,"SGEM":72.85,"AEGD":73.7,"SGDM":71.8,"AdaBelief":73.05,"AdaBound":71.85,"RAdam":70.3,"Yogi":72.65,"Adam":68.0},
{"epoch":198,"SGEM":73.1,"AEGD":73.65,"SGDM":71.85,"AdaBelief":73.2,"AdaBound":71.9,"RAdam":70.5,"Yogi":72.6,"Adam":67.9},
{"epoch":199,"SGEM":72.25,"AEGD":73.75,"SGDM":71.7,"AdaBelief":73.15,"AdaBound":71.95,"RAdam":70.1,"Yogi":72.55,"Adam":68.0}
  ]},
  "transform": [
    {"fold": ["SGEM", "AEGD", "SGDM", "AdaBelief", "AdaBound", "RAdam", "Yogi", "Adam"], "as": ["optimizer", "accuracy"]}
  ],
  "mark": {"type": "line", "strokeWidth": 6.25, "clip": true, "strokeJoin": "round", "strokeCap": "butt"},
  "encoding": {
    "x": {
      "field": "epoch", "type": "quantitative",
      "scale": {"domain": [-9.95, 208.95], "nice": false, "zero": false},
      "axis": {"values": [0, 50, 100, 150, 200], "title": "Epoch", "titlePadding": 18}
    },
    "y": {
      "field": "accuracy", "type": "quantitative",
      "scale": {"domain": [56, 74], "nice": false, "zero": false},
      "axis": {
        "values": [56, 58, 60, 62, 64, 66, 68, 70, 72, 74], "title": "Test Accuracy %", "titlePadding": 23,
        "gridOpacity": {"condition": {"test": "datum.value === 56 || datum.value === 74", "value": 0}, "value": 1}
      }
    },
    "color": {
      "field": "optimizer", "type": "nominal",
      "scale": {
        "domain": ["SGEM", "AEGD", "SGDM", "AdaBelief", "AdaBound", "RAdam", "Yogi", "Adam"],
        "range": ["#1f77b4", "#ff7f0e", "#2ca02c", "#d62728", "#9467bd", "#8c564b", "#e377c2", "#7f7f7f"]
      },
      "legend": {"title": null}
    },
    "strokeDash": {
      "field": "optimizer", "type": "nominal",
      "scale": {
        "domain": ["SGEM", "AEGD", "SGDM", "AdaBelief", "AdaBound", "RAdam", "Yogi", "Adam"],
        "range": [[1, 0], [23, 10], [23, 10], [23, 10], [23, 10], [23, 10], [23, 10], [23, 10]]
      },
      "legend": {"title": null}
    }
  },
  "config": {
    "font": "DejaVu Sans",
    "view": {"stroke": "black", "strokeWidth": 3.3},
    "axis": {
      "labelFontSize": 48, "titleFontSize": 48, "titleFontWeight": "normal",
      "labelColor": "black", "titleColor": "black",
      "labelFont": "DejaVu Sans", "titleFont": "DejaVu Sans",
      "tickColor": "black", "tickWidth": 3.3, "tickSize": 14.6,
      "domain": false,
      "gridColor": "#b0b0b0", "gridWidth": 3.3, "gridDash": [12.3, 5.3],
      "labelPadding": 14
    },
    "legend": {
      "orient": "none", "legendX": 25, "legendY": 26,
      "fillColor": "rgba(255,255,255,0.8)", "strokeColor": "#cccccc", "strokeWidth": 3.3,
      "cornerRadius": 10, "padding": 19,
      "labelFontSize": 48, "labelColor": "black", "labelFont": "DejaVu Sans", "labelLimit": 0,
      "symbolType": "M-1.15,0H4", "symbolSize": 1600, "symbolStrokeWidth": 6.25,
      "labelOffset": 94, "rowPadding": 25
    }
  }
}
